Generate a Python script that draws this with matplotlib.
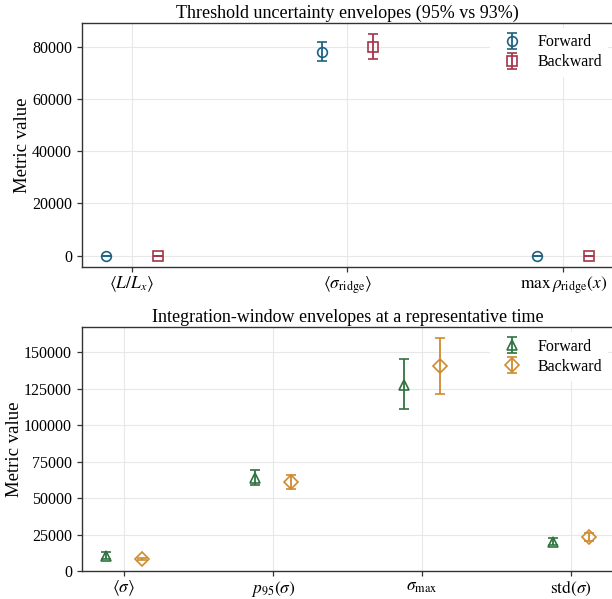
import matplotlib

matplotlib.use("Agg")
import matplotlib.pyplot as plt
import numpy as np

# Threshold envelopes (95% vs 93%)
thr_labels = [
    r"$\langle L/L_x\rangle$",
    r"$\langle\sigma_{\rm ridge}\rangle$",
    r"$\max\,\rho_{\rm ridge}(x)$",
]
thr_fwd = [1.0, 78100.0, 1.0]
thr_fwd_lo = [0.9, 74500.0, 0.9]
thr_fwd_hi = [1.1, 81700.0, 1.1]
thr_bwd = [1.0, 80000.0, 1.0]
thr_bwd_lo = [0.9, 75400.0, 0.9]
thr_bwd_hi = [1.1, 84700.0, 1.1]

# Integration-window envelopes
win_labels = [
    r"$\langle\sigma\rangle$",
    r"$p_{95}(\sigma)$",
    r"$\sigma_{\max}$",
    r"$\mathrm{std}(\sigma)$",
]
win_fwd = [10800.0, 63900.0, 127500.0, 20400.0]
win_fwd_lo = [8500.0, 59100.0, 111300.0, 18300.0]
win_fwd_hi = [13000.0, 69600.0, 145600.0, 22900.0]
win_bwd = [8200.0, 61000.0, 140500.0, 23400.0]
win_bwd_lo = [7600.0, 56500.0, 121300.0, 20800.0]
win_bwd_hi = [8900.0, 65900.0, 159600.0, 26000.0]

plt.rcParams["font.family"] = ["Liberation Serif", "DejaVu Serif"]
plt.rcParams["mathtext.fontset"] = "stix"
plt.rcParams["axes.edgecolor"] = "#333333"
plt.rcParams["xtick.color"] = "#333333"
plt.rcParams["ytick.color"] = "#333333"
plt.rcParams["xtick.labelcolor"] = "black"
plt.rcParams["ytick.labelcolor"] = "black"

OFFSET = 0.12


def draw_panel(ax, labels, fwd, fwd_lo, fwd_hi, bwd, bwd_lo, bwd_hi,
               styles, title):
    x = np.arange(len(labels))
    for sign, vals, lo, hi, (marker, color, ms, name) in [
        (-1, fwd, fwd_lo, fwd_hi, styles[0]),
        (1, bwd, bwd_lo, bwd_hi, styles[1]),
    ]:
        vals = np.asarray(vals)
        yerr = [vals - np.asarray(lo), np.asarray(hi) - vals]
        ax.errorbar(
            x + sign * OFFSET, vals, yerr=yerr, fmt=marker, color=color,
            mfc="none", mec=color, ms=ms, mew=1.2, elinewidth=1.3,
            capsize=3.3, capthick=1.2, label=name, zorder=3,
        )
    ax.set_xticks(x)
    ax.set_xticklabels(labels, fontsize=12.5)
    ax.tick_params(axis="y", labelsize=11.5)
    ax.tick_params(length=3.5, width=0.9)
    ax.tick_params(axis="x", pad=2)
    ax.set_ylabel("Metric value", fontsize=13.5, labelpad=1)
    ax.set_title(title, fontsize=13, pad=4)
    ax.grid(True, color="#e8e8e8", linewidth=0.8)
    ax.set_axisbelow(True)
    for side in ["left", "top", "bottom"]:
        ax.spines[side].set_linewidth(1.0)
    leg = ax.legend(loc="upper right", fontsize=11.5, frameon=True,
                    framealpha=1.0, edgecolor="none", borderaxespad=0.3,
                    labelspacing=0.25, handletextpad=0.6)
    leg.get_frame().set_facecolor("white")


fig = plt.figure(figsize=(6.12, 5.99), dpi=100)
ax_top = fig.add_axes([0.1335, 0.5548, 0.8686, 0.4063])
ax_bot = fig.add_axes([0.1335, 0.0462, 0.8686, 0.4073])

draw_panel(
    ax_top, thr_labels, thr_fwd, thr_fwd_lo, thr_fwd_hi,
    thr_bwd, thr_bwd_lo, thr_bwd_hi,
    [("o", "#1d6283", 7, "Forward"), ("s", "#a3354a", 6.8, "Backward")],
    "Threshold uncertainty envelopes (95% vs 93%)",
)
ax_top.set_yticks([0, 20000, 40000, 60000, 80000])

draw_panel(
    ax_bot, win_labels, win_fwd, win_fwd_lo, win_fwd_hi,
    win_bwd, win_bwd_lo, win_bwd_hi,
    [("^", "#2f7440", 7.5, "Forward"), ("D", "#cf8a2e", 7.5, "Backward")],
    "Integration-window envelopes at a representative time",
)
ax_bot.set_ylim(bottom=0)
ax_bot.set_yticks([0, 25000, 50000, 75000, 100000, 125000, 150000])

fig.savefig("out.png", dpi=100)
